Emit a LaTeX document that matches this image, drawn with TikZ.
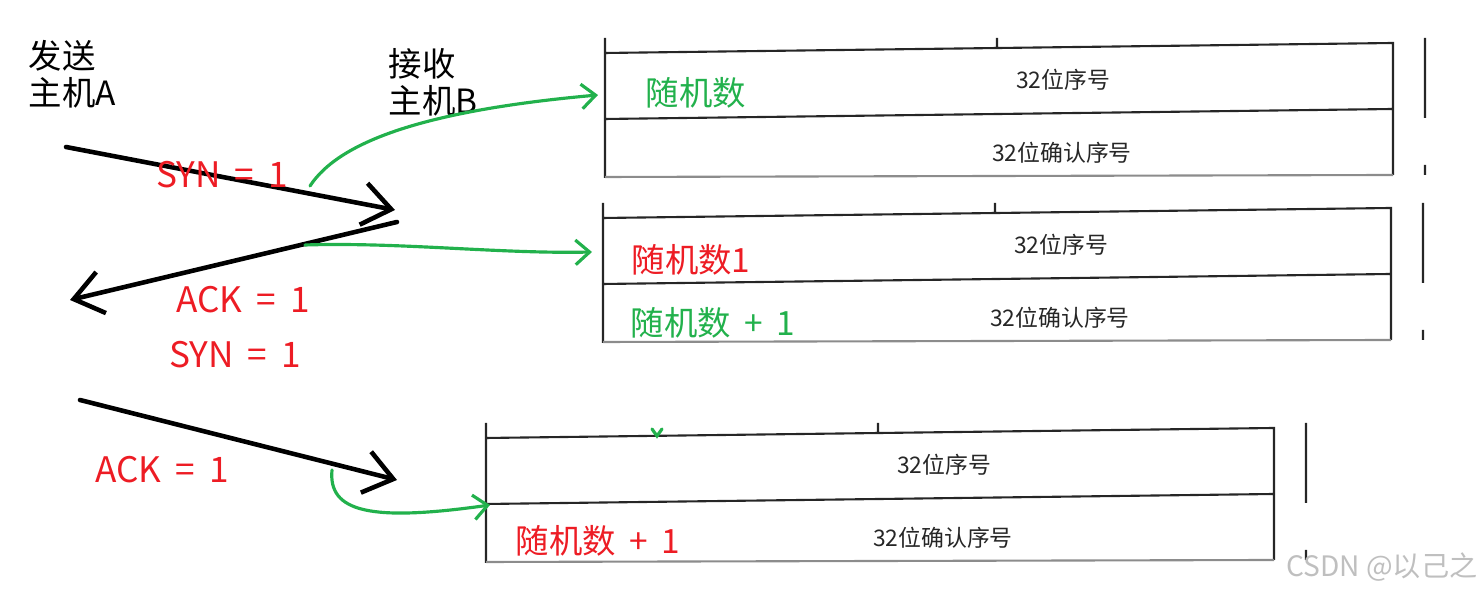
\documentclass[tikz,border=0pt]{standalone}
\usepackage{fontspec}
\setmainfont{Noto Sans CJK SC}
\usetikzlibrary{arrows.meta}
\definecolor{pred}{RGB}{237,28,36}
\definecolor{pgreen}{RGB}{34,177,76}

\begin{document}
\begin{tikzpicture}[
        x=0.01cm, y=-0.01cm,
        msg/.style={line width=1.3pt, line cap=round, -{Straight Barb[length=8pt,width=12pt,line width=1.3pt]}},
        note/.style={pgreen, line width=0.9pt, line cap=round, -{Straight Barb[length=4pt,width=7pt,line width=0.9pt]}},
        host/.style={align=left, inner sep=0, anchor=north west, font=\fontsize{9.5}{10.5}\selectfont},
        flag/.style={text=pred, inner sep=0, font=\fontsize{10}{12}\selectfont},
        rnd/.style={inner sep=0, font=\fontsize{9.5}{11}\selectfont},
        tbl/.style={line width=0.6pt, black!85},
        field/.style={inner sep=0, text=black!85, font=\fontsize{6.5}{8}\selectfont},
        hdr/.pic={
            \draw[tbl] (0,0) -- (0,140) (0,15) -- (788,5) (392,0) -- (392,10)
                (0,81) -- (788,71) (788,4) -- (788,137)
                (820,0) -- (820,80) (820,127) -- (820,137);
            \draw[tbl, black!45] (0,139) -- (788,137);
            \node[field] (-seq) at (458,42) {32位序号};
            \node[field] (-ack) at (457,115) {32位确认序号};
        }
    ]
        \useasboundingbox (0,0) rectangle (1484,592);

        \node[host] (A) at (28,40) {发送\\主机A};
        \node[host] (B) at (388,48) {接收\\主机B};

        \pic (h1) at (605,38) {hdr};
        \pic (h2) at (603,203) {hdr};
        \pic (h3) at (486,423) {hdr};

        \coordinate (a1s) at (66,147);
        \coordinate (a1e) at (395,210);
        \coordinate (a2s) at (397,222);
        \coordinate (a2e) at (70,300);
        \coordinate (a3s) at (80,400);
        \coordinate (a3e) at (397,480);

        \draw[msg] (a1s) -- (a1e);
        \draw[msg] (a2s) -- (a2e);
        \draw[msg] (a3s) -- (a3e);

        \node[flag] (syn1) at (222,175) {SYN\hspace{0.4em}=\hspace{0.4em}1};
        \node[flag] (ack2) at (243,300) {ACK\hspace{0.4em}=\hspace{0.4em}1};
        \node[flag] (syn2) at (235,355) {SYN\hspace{0.4em}=\hspace{0.4em}1};
        \node[flag] (ack3) at (162,470) {ACK\hspace{0.4em}=\hspace{0.4em}1};

        \node[rnd, text=pgreen] (r1) at (696,93) {随机数};
        \node[rnd, text=pred] (r2) at (691,260) {随机数1};
        \node[rnd, text=pgreen] (r2a) at (713,323) {随机数\hspace{0.4em}+\hspace{0.4em}1};
        \node[rnd, text=pred] (r3a) at (598,541) {随机数\hspace{0.4em}+\hspace{0.4em}1};

        \coordinate (g1s) at (310,186);
        \coordinate (g1e) at (598,95);
        \coordinate (g2s) at (305,245);
        \coordinate (g2e) at (592,252);
        \coordinate (g3s) at (332,470);
        \coordinate (g3e) at (490,505);

        \draw[note] (g1s) .. controls (340,140) and (430,110) .. (g1e);
        \draw[note] (g2s) .. controls (400,242) and (500,254) .. (g2e);
        \draw[note] (g3s) .. controls (328,512) and (370,522) .. (g3e);
        \draw[pgreen, line width=0.9pt, line cap=round] (652,429) -- (657,436) -- (662,429);

        \node[inner sep=0, anchor=east, text=black!25, font=\fontsize{8}{10}\selectfont] (mark) at (1478,567) {CSDN @以己之};
    \end{tikzpicture}
\end{document}
